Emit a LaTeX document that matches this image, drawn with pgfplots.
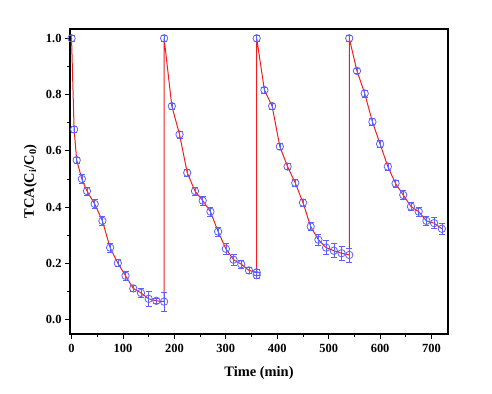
\documentclass[border=0pt]{standalone}
\usepackage{pgfplots}
\pgfplotsset{compat=1.18}
\usepackage{fontspec}
\setmainfont{Liberation Serif}
\definecolor{mblue}{RGB}{95,95,250}
\definecolor{lred}{RGB}{240,30,30}
\begin{document}
\begin{tikzpicture}
\begin{axis}[
  scale only axis,
  width=378bp, height=305bp,
  xmin=-3, xmax=732, ymin=-0.051, ymax=1.033,
  xtick={0,100,...,700}, minor xtick={50,150,...,750},
  ytick={0,0.2,...,1.0}, minor ytick={0.1,0.3,...,0.9},
  tick pos=left, tick align=outside,
  major tick length=5bp, minor tick length=3bp,
  axis line style={line width=1.1bp},
  every tick/.style={black, line width=0.9bp},
  yticklabel style={/pgf/number format/.cd, fixed, fixed zerofill, precision=1},
  /pgf/number format/assume math mode=true,
  ticklabel style={font=\fontsize{12.5}{14}\selectfont\bfseries},
  xticklabel style={yshift=-2bp},
  xlabel={Time (min)}, ylabel={TCA(C\textsubscript{i}/C\textsubscript{0})},
  label style={font=\fontsize{14.5}{16}\selectfont\bfseries},
  xlabel style={yshift=-7bp},
  ylabel style={yshift=2bp},
  clip=false,
]
\coordinate (SW) at (rel axis cs:0,0);
\coordinate (NE) at (rel axis cs:1,1);
\addplot[color=lred, line width=1bp, mark=o, mark size=3.7bp,
  mark options={draw=mblue, fill=white, line width=0.8bp, solid},
  error bars/.cd, y dir=both, y explicit,
  error bar style={color=mblue, line width=0.6bp},
  error mark options={rotate=90, mark size=3bp, color=mblue, line width=0.6bp}]
table[x=t, y=c, y error=e] {
t c e
0 1.000 0.010
5 0.676 0.010
10 0.567 0.010
20 0.500 0.015
30 0.457 0.015
45 0.411 0.015
60 0.351 0.015
75 0.256 0.015
90 0.201 0.012
105 0.156 0.015
120 0.111 0.012
135 0.095 0.015
150 0.074 0.025
165 0.067 0.010
180 0.064 0.033
180 1.000 0.010
195 0.759 0.010
210 0.658 0.012
225 0.522 0.012
240 0.457 0.015
255 0.423 0.015
270 0.384 0.015
285 0.313 0.015
300 0.252 0.020
315 0.213 0.020
330 0.197 0.015
345 0.175 0.012
360 0.168 0.010
360 0.158 0.010
360 1.000 0.010
375 0.816 0.010
390 0.759 0.010
405 0.615 0.010
420 0.544 0.010
435 0.486 0.012
450 0.416 0.012
465 0.331 0.015
480 0.284 0.020
495 0.256 0.025
510 0.245 0.025
525 0.236 0.025
540 0.230 0.025
540 1.000 0.010
555 0.884 0.010
570 0.804 0.012
585 0.703 0.012
600 0.624 0.012
615 0.544 0.012
630 0.484 0.012
645 0.443 0.015
660 0.402 0.015
675 0.384 0.015
690 0.351 0.015
705 0.343 0.020
720 0.323 0.020
};
\end{axis}
\path ([xshift=-70bp,yshift=-60bp]SW) rectangle ([xshift=44bp,yshift=29bp]NE);
\end{tikzpicture}
\end{document}
